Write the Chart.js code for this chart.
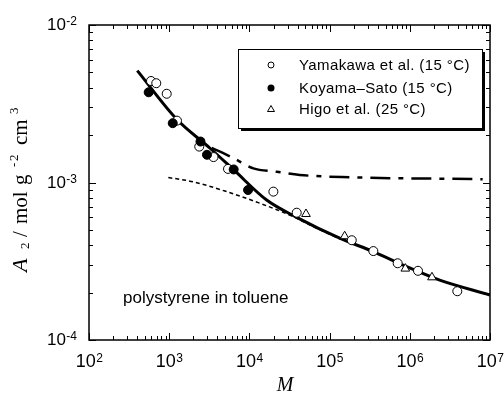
<!DOCTYPE html>
<html>
<head>
<meta charset="utf-8">
<script src="https://cdn.jsdelivr.net/npm/chart.js@4.4.0/dist/chart.umd.min.js"></script>
<style>
  html, body { margin: 0; padding: 0; background: #fff; }
  #wrap { width: 504px; height: 394px; position: relative; }
</style>
</head>
<body>
<div id="wrap"><canvas id="chart" width="504" height="394"></canvas></div>
<script>
const yamakawaM = [593, 690, 931, 1250, 2370, 3570, 5410, 19900, 38900, 189000, 351000, 706000, 1265000, 3910000];
const yamakawaA2 = [4.41e-3, 4.27e-3, 3.66e-3, 2.47e-3, 1.69e-3, 1.45e-3, 1.22e-3, 8.75e-4, 6.43e-4, 4.30e-4, 3.67e-4, 3.07e-4, 2.75e-4, 2.04e-4];

const koyamaM = [555, 1107, 2455, 2958, 6370, 9620];
const koyamaA2 = [3.74e-3, 2.38e-3, 1.82e-3, 1.50e-3, 1.21e-3, 8.96e-4];

const higoM = [50800, 154000, 879000, 1890000];
const higoA2 = [6.31e-4, 4.56e-4, 2.84e-4, 2.50e-4];

// theory curves
const solidM = [400, 1242, 3230, 6300, 16400, 38900, 133600, 351000, 914000, 2360000, 10000000];
const solidA2 = [5.13e-3, 2.52e-3, 1.65e-3, 1.21e-3, 7.74e-4, 6.01e-4, 4.43e-4, 3.64e-4, 2.92e-4, 2.40e-4, 1.93e-4];

const dashDotM = [3390, 6300, 11200, 21900, 42400, 178000, 8100000];
const dashDotA2 = [1.66e-3, 1.43e-3, 1.23e-3, 1.17e-3, 1.117e-3, 1.08e-3, 1.05e-3];

const dashM = [975, 2000, 5210, 13550, 35200, 57000, 135000];
const dashA2 = [1.076e-3, 1.01e-3, 8.75e-4, 7.38e-4, 6.07e-4, 5.37e-4, 4.37e-4];

const xTickExp = [2, 3, 4, 5, 6, 7];
const yTickExp = [-4, -3, -2];

const legendLabels = ["Yamakawa et al. (15 °C)", "Koyama\u2013Sato (15 °C)", "Higo et al. (25 °C)"];

function pts(xs, ys) {
  return xs.map((x, i) => ({ x: x, y: ys[i] }));
}

// frame, inward ticks, superscript tick labels, titles, legend box
const decor = {
  id: 'decor',
  afterDraw(chart) {
    const ctx = chart.ctx;
    const a = chart.chartArea;
    const xs = chart.scales.x;
    const ys = chart.scales.y;
    ctx.save();
    ctx.strokeStyle = '#000';
    ctx.lineWidth = 1.5;
    ctx.strokeRect(a.left, a.top, a.right - a.left, a.bottom - a.top);

    ctx.lineWidth = 1;
    ctx.beginPath();
    // x ticks
    for (let e = 2; e < 7; e++) {
      for (let k = 1; k <= 10; k++) {
        const px = Math.round(xs.getPixelForValue(k * Math.pow(10, e))) + 0.5;
        const len = (k === 1 || k === 10) ? 7 : 4;
        ctx.moveTo(px, a.bottom); ctx.lineTo(px, a.bottom - len);
        ctx.moveTo(px, a.top); ctx.lineTo(px, a.top + len);
      }
    }
    // y ticks
    for (let e = -4; e < -2; e++) {
      for (let k = 1; k <= 10; k++) {
        const py = Math.round(ys.getPixelForValue(k * Math.pow(10, e))) + 0.5;
        const len = (k === 1 || k === 10) ? 7 : 4;
        ctx.moveTo(a.left, py); ctx.lineTo(a.left + len, py);
        ctx.moveTo(a.right, py); ctx.lineTo(a.right - len, py);
      }
    }
    ctx.stroke();

    // tick labels
    ctx.fillStyle = '#000';
    ctx.textBaseline = 'alphabetic';
    ctx.textAlign = 'left';
    const sans = '"Liberation Sans", Arial, sans-serif';
    xTickExp.forEach(e => {
      const px = xs.getPixelForValue(Math.pow(10, e));
      ctx.font = '18px ' + sans;
      const w1 = ctx.measureText('10').width;
      ctx.font = '12px ' + sans;
      const w2 = ctx.measureText(String(e)).width;
      const x0 = px - (w1 + w2) / 2;
      ctx.font = '18px ' + sans;
      ctx.fillText('10', x0, 367);
      ctx.font = '12px ' + sans;
      ctx.fillText(String(e), x0 + w1 + 0.5, 362);
    });
    yTickExp.forEach(e => {
      const py = ys.getPixelForValue(Math.pow(10, e));
      ctx.font = '12px ' + sans;
      const w2 = ctx.measureText(String(e)).width;
      ctx.font = '17px ' + sans;
      const w1 = ctx.measureText('10').width;
      const right = 77;
      ctx.fillText('10', right - w1 - w2 - 0.5, py + 5);
      ctx.font = '12px ' + sans;
      ctx.fillText(String(e), right - w2, py);
    });

    // x title
    ctx.font = 'italic 20px "Liberation Serif", "Times New Roman", serif';
    ctx.textAlign = 'center';
    ctx.fillText('M', 285, 391);

    // y title (rotated), pieces placed along the baseline
    ctx.save();
    ctx.translate(27, 272);
    ctx.rotate(-Math.PI / 2);
    ctx.textAlign = 'left';
    const serif = '"Liberation Serif", "Times New Roman", serif';
    const parts = [
      ['A', 'italic 22px ' + serif, 0, 0],
      ['2', '13px ' + serif, 23, 2],
      ['/', '21px ' + serif, 35, 0],
      ['mol', '21px ' + serif, 48, 0],
      ['g', '21px ' + serif, 87, 0],
      ['-', '13px ' + serif, 105, -9],
      ['2', '13px ' + serif, 111, -9],
      ['cm', '21px ' + serif, 127, 0],
      ['3', '13px ' + serif, 158, -9]
    ];
    parts.forEach(p => {
      ctx.font = p[1];
      ctx.fillText(p[0], p[2], p[3]);
    });
    ctx.restore();

    // annotation
    ctx.font = '17px ' + sans;
    ctx.textAlign = 'left';
    ctx.fillText('polystyrene in toluene', 123, 303);

    // legend box with shadow
    const bx = 238, by = 49, bw = 244, bh = 79;
    ctx.fillStyle = '#000';
    ctx.fillRect(bx + 3, by + 3, bw, bh);
    ctx.fillStyle = '#fff';
    ctx.fillRect(bx, by, bw, bh);
    ctx.lineWidth = 1;
    ctx.strokeStyle = '#000';
    ctx.strokeRect(bx + 0.5, by + 0.5, bw, bh);

    ctx.fillStyle = '#000';
    ctx.font = '15px ' + sans;
    ctx.letterSpacing = '0.4px';
    const rows = [65, 88, 109];
    legendLabels.forEach((t, i) => {
      ctx.fillText(t, 299, rows[i] + 5);
      const mx = 271, my = rows[i];
      ctx.beginPath();
      if (i === 0) {
        ctx.arc(mx, my, 3, 0, Math.PI * 2);
        ctx.stroke();
      } else if (i === 1) {
        ctx.arc(mx, my, 3.5, 0, Math.PI * 2);
        ctx.fill();
      } else {
        ctx.moveTo(mx, my - 3.5);
        ctx.lineTo(mx + 3.5, my + 2.5);
        ctx.lineTo(mx - 3.5, my + 2.5);
        ctx.closePath();
        ctx.stroke();
      }
    });
    ctx.restore();
  }
};

new Chart(document.getElementById('chart'), {
  type: 'scatter',
  data: {
    datasets: [
      {
        label: 'theory',
        data: pts(solidM, solidA2),
        showLine: true,
        borderColor: '#000',
        borderWidth: 3,
        pointRadius: 0,
        cubicInterpolationMode: 'monotone',
        order: 5
      },
      {
        label: 'dash-dot',
        data: pts(dashDotM, dashDotA2),
        showLine: true,
        borderColor: '#000',
        borderWidth: 2.5,
        borderDash: [20, 8, 5, 8],
        pointRadius: 0,
        cubicInterpolationMode: 'monotone',
        order: 6
      },
      {
        label: 'dashed',
        data: pts(dashM, dashA2),
        showLine: true,
        borderColor: '#000',
        borderWidth: 1.5,
        borderDash: [4, 3],
        pointRadius: 0,
        cubicInterpolationMode: 'monotone',
        order: 7
      },
      {
        label: legendLabels[0],
        data: pts(yamakawaM, yamakawaA2),
        pointStyle: 'circle',
        pointRadius: 4.5,
        borderColor: '#000',
        backgroundColor: '#fff',
        borderWidth: 1,
        order: 2
      },
      {
        label: legendLabels[1],
        data: pts(koyamaM, koyamaA2),
        pointStyle: 'circle',
        pointRadius: 4.5,
        borderColor: '#000',
        backgroundColor: '#000',
        borderWidth: 1,
        order: 1
      },
      {
        label: legendLabels[2],
        data: pts(higoM, higoA2),
        pointStyle: 'triangle',
        pointRadius: 5,
        borderColor: '#000',
        backgroundColor: '#fff',
        borderWidth: 1,
        order: 3
      }
    ]
  },
  options: {
    responsive: false,
    animation: false,
    layout: { padding: { left: 89, top: 25, right: 14, bottom: 54 } },
    plugins: { legend: { display: false }, tooltip: { enabled: false } },
    scales: {
      x: { type: 'logarithmic', min: 100, max: 1e7, display: false },
      y: { type: 'logarithmic', min: 1e-4, max: 1e-2, display: false }
    }
  },
  plugins: [decor]
});
</script>
</body>
</html>
